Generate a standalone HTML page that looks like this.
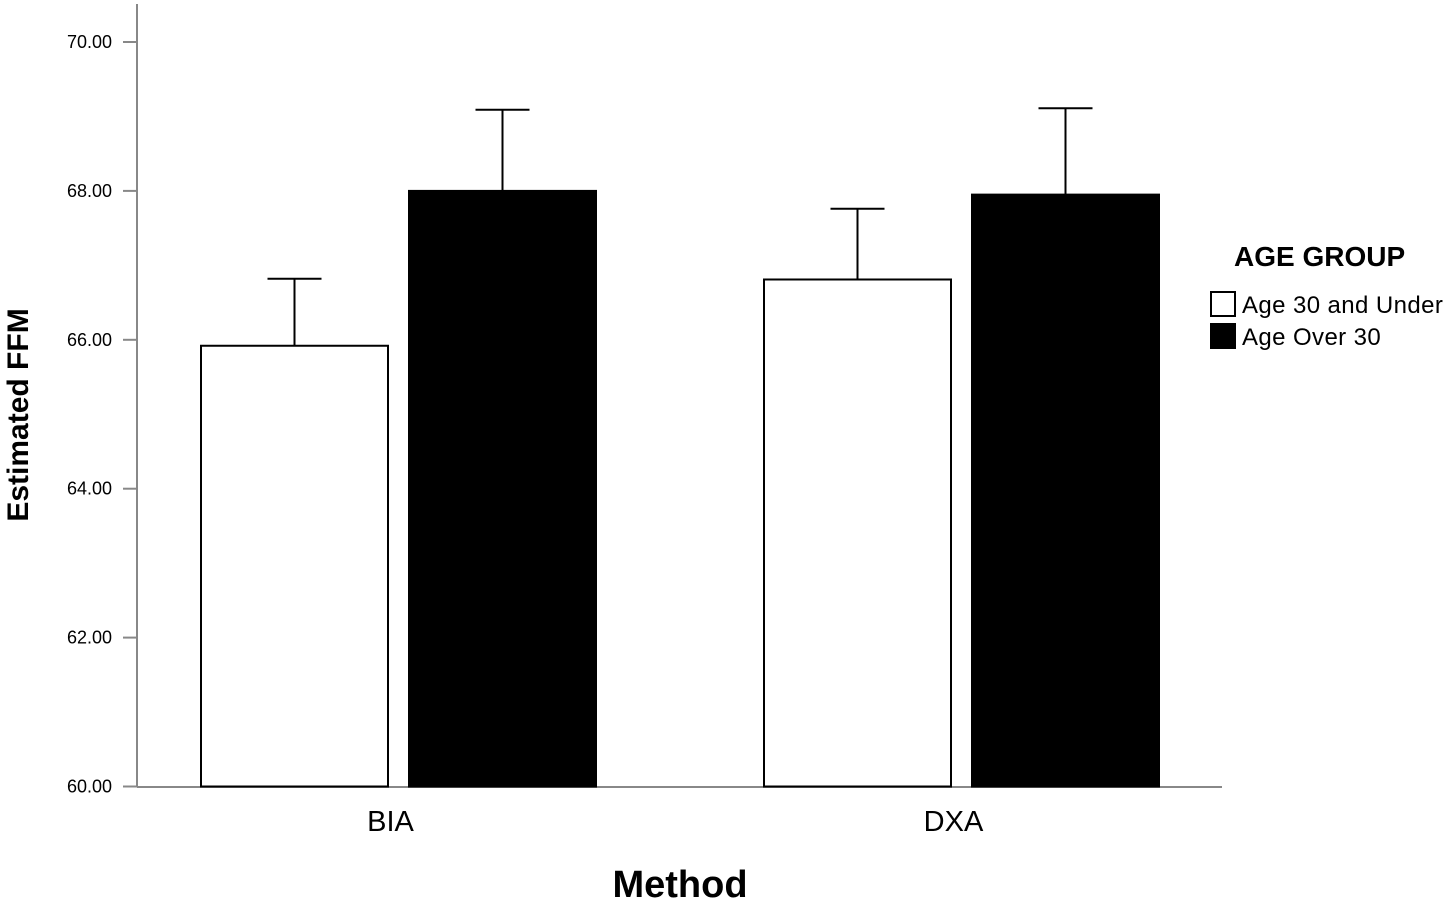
<!DOCTYPE html>
<html><head><meta charset="utf-8"><style>
body{margin:0;background:#fff;}
svg{display:block;font-family:"Liberation Sans",Arial,sans-serif;}
</style></head><body>
<svg id="chart" width="1450" height="901">
<g id="axes"></g><g id="bars"></g>
<text x="28" y="415" transform="rotate(-90 28 415)" text-anchor="middle" font-size="30" font-weight="bold">Estimated FFM</text>
<text x="680" y="897" text-anchor="middle" font-size="38" font-weight="bold">Method</text>
<g>
<text x="1234" y="266" font-size="28" font-weight="bold">AGE GROUP</text>
<g><rect x="1211" y="292" width="24" height="24" fill="#fff" stroke="#000" stroke-width="2"/><text x="1242" y="313" font-size="24" letter-spacing="0.4">Age 30 and Under</text></g>
<g><rect x="1211" y="324" width="24" height="24" fill="#000" stroke="#000" stroke-width="2"/><text x="1242" y="345" font-size="24" letter-spacing="0.4">Age Over 30</text></g>
</g>
</svg>
<script>
const categories=["BIA","DXA"];
const seriesUnder30=[65.92,66.81];
const seriesOver30=[68.0,67.95];
const errUnder30=[66.82,67.76];
const errOver30=[69.09,69.11];
const yTicks=[60,62,64,66,68,70];
const NS="http://www.w3.org/2000/svg";
const y0=786.5,pxPerUnit=74.45,yMin=60;
function yScale(v){return y0-(v-yMin)*pxPerUnit;}
const groupStart=[201,764];
const barW=187,gap=21;
function mk(t,a,p){const e=document.createElementNS(NS,t);for(const k in a)e.setAttribute(k,a[k]);p.appendChild(e);return e;}
const axes=document.getElementById('axes'),bars=document.getElementById('bars');
const ya=mk('line',{x1:137,y1:4,x2:137,y2:787,stroke:'#888','stroke-width':2},axes);


const xa=mk('line',{x1:137,y1:787,x2:1222,y2:787,stroke:'#888','stroke-width':2},axes);


yTicks.forEach(v=>{const y=yScale(v);
 const tk=mk('line',{x1:123,y1:y,x2:137,y2:y,stroke:'#888','stroke-width':2},axes);
 
 
 const t=mk('text',{x:112,y:y+6,'text-anchor':'end','font-size':18},axes);t.textContent=v.toFixed(2);
 
 
});
categories.forEach((c,i)=>{
 const gx=groupStart[i];
 const t=mk('text',{x:gx+barW+gap/2-8,y:831,'text-anchor':'middle','font-size':29},axes);t.textContent=c;
 
 
 [[seriesUnder30[i],errUnder30[i],'#fff',gx,'under-30'],[seriesOver30[i],errOver30[i],'#000',gx+barW+gap,'over-30']].forEach(([v,e,f,x,n])=>{
  const cx=x+barW/2;
  const el=mk('line',{x1:cx,y1:yScale(v),x2:cx,y2:yScale(e),stroke:'#000','stroke-width':2},bars);
  
  
  const cap=mk('line',{x1:cx-27,y1:yScale(e),x2:cx+27,y2:yScale(e),stroke:'#000','stroke-width':2},bars);
  
  
  const r=mk('rect',{x:x,y:yScale(v),width:barW,height:y0-yScale(v),fill:f,stroke:'#000','stroke-width':2},bars);
  
  
 });
});
</script>
</body></html>
